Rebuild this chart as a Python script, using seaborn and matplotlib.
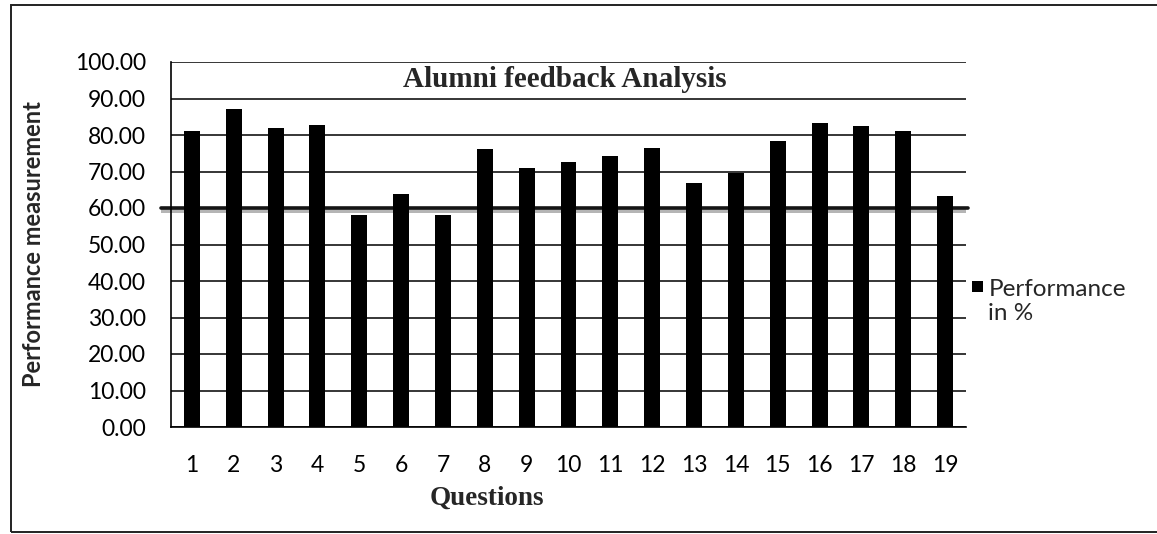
import numpy as np
import pandas as pd
import matplotlib
matplotlib.use("Agg")
import matplotlib.pyplot as plt
import matplotlib.patches as mpatches
from matplotlib.legend_handler import HandlerPatch
from matplotlib.transforms import blended_transform_factory
import seaborn as sns

# values
questions = [str(i) for i in range(1, 20)]
performance = [81.2, 87.0, 82.0, 82.7, 58.2, 63.8, 58.0, 76.2, 71.0, 72.5,
               74.2, 76.4, 66.8, 69.6, 78.4, 83.3, 82.4, 81.0, 63.2]
target = 60.0
yticks = list(range(0, 101, 10))
series_name = "Performance\nin %"

df = pd.DataFrame({"Questions": questions, "Performance": performance})

sns.set_style("white")
plt.rcParams["font.family"] = ["Lato", "DejaVu Sans"]
SERIF = ["Liberation Serif", "DejaVu Serif"]

fig = plt.figure(figsize=(11.57, 5.34), dpi=100)
ax = fig.add_axes([171 / 1157, 1 - 427 / 534, 795 / 1157, 365 / 534])

sns.barplot(data=df, x="Questions", y="Performance", color="black", saturation=1,
            width=0.38, linewidth=0, ax=ax, zorder=2)

ax.set_xlim(-0.5, len(questions) - 0.5)
ax.set_ylim(0, 100)
ax.set_yticks(yticks)
ax.set_yticklabels([f"{v:.2f}" for v in yticks], fontsize=16.5)
ax.set_xticks(range(len(questions)))
ax.set_xticklabels(questions, fontsize=16.5)
ax.set_xticks(np.arange(-0.5, len(questions)), minor=True)
ax.tick_params(axis="x", which="major", length=0, pad=20)
ax.tick_params(axis="x", which="minor", length=4, width=1, direction="out", color="black")
ax.tick_params(axis="y", length=5, width=1, direction="out", color="black", pad=13)
ax.tick_params(colors="black", which="both")

ax.yaxis.grid(True, color="black", lw=1.1)
ax.set_axisbelow(True)
for s in ["top", "right"]:
    ax.spines[s].set_visible(False)
for s in ["left", "bottom"]:
    ax.spines[s].set_color("black")
    ax.spines[s].set_linewidth(1.2)

# target line around 60 with its grey shadow
ax.axhspan(target - 1.4, target - 0.4, xmin=-0.0126, xmax=1.0, color="#b5b5b5",
           lw=0, clip_on=False, zorder=1)
ax.axhline(target, xmin=-0.0126, xmax=1.003, color="#151515", lw=2.6,
           clip_on=False, zorder=1.5)

trans = blended_transform_factory(ax.transAxes, ax.transData)
ax.text(0.4956, 95.3, "Alumni feedback Analysis", transform=trans, ha="center",
        va="center", fontsize=21, fontweight="bold", family=SERIF)

ax.set_ylabel("Performance measurement", fontsize=17, fontweight="bold")
ax.yaxis.set_label_coords(-0.1585, 0.5)
ax.set_xlabel("Questions", fontsize=19.5, fontweight="bold", family=SERIF)
ax.xaxis.set_label_coords(0.3975, -0.195)
ax.xaxis.label.set_va("center")


def top_square(legend, orig_handle, xdescent, ydescent, width, height, fontsize):
    s = 0.47 * fontsize
    return mpatches.Rectangle((-xdescent, -ydescent + height / 2 - s / 2 + 0.62 * fontsize), s, s)


proxy = mpatches.Patch(facecolor=ax.patches[0].get_facecolor(), edgecolor="none")
fig.legend([proxy], [series_name], loc="upper left", bbox_to_anchor=(972 / 1157, 1 - 279 / 534),
           frameon=False, fontsize=17.5, borderpad=0, borderaxespad=0, handlelength=0.47,
           handleheight=0.47, handletextpad=0.2, labelspacing=0,
           handler_map={mpatches.Patch: HandlerPatch(patch_func=top_square)})

# outer chart border
fig.patches.append(mpatches.Rectangle((11 / 1157, 1 - 532 / 534), 1.1, 527 / 534,
                                      transform=fig.transFigure, fill=False,
                                      edgecolor="#222222", lw=1.4))

fig.savefig("out.png", dpi=100)
